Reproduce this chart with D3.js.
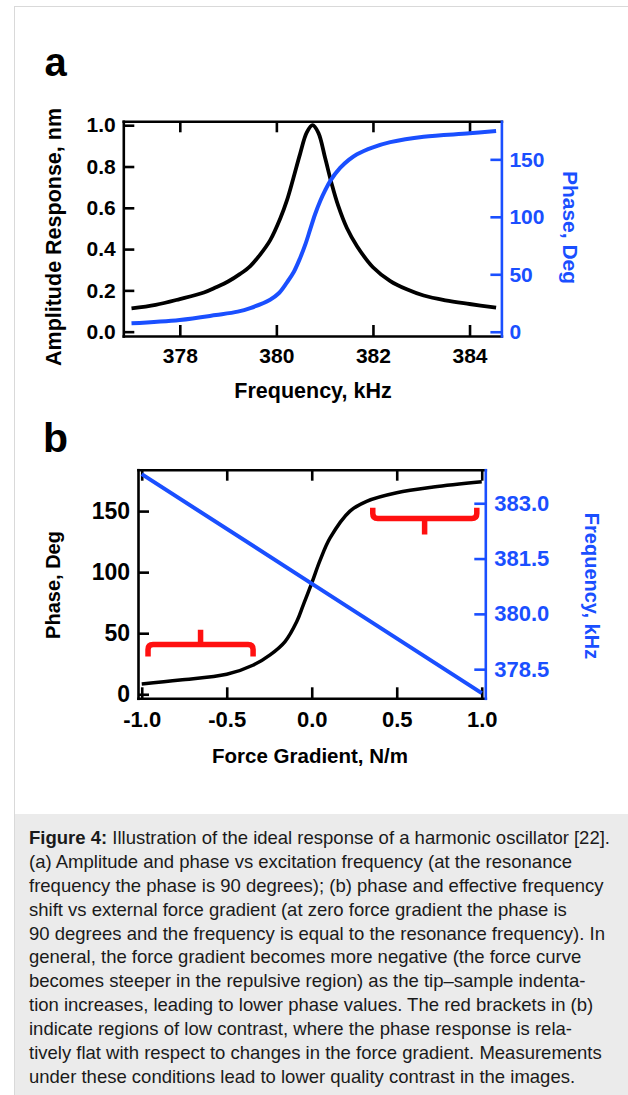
<!DOCTYPE html>
<html>
<head>
<meta charset="utf-8">
<script src="https://cdn.jsdelivr.net/npm/d3@7"></script>
<style>
  html, body { margin: 0; padding: 0; background: #fff; }
  svg { display: block; }
</style>
</head>
<body>
<div id="chart"></div>
<script>
// Panel a: amplitude and phase vs excitation frequency (kHz)
const freqAmp = [377.0, 377.5, 378.0, 378.5, 378.75, 379.0, 379.25, 379.46, 379.66, 379.87, 380.08, 380.22, 380.35, 380.49, 380.63, 380.75, 380.87, 381.01, 381.15, 381.28, 381.46, 381.67, 382.0, 382.36, 382.7, 383.05, 383.5, 384.0, 384.55]
const amplitude = [0.113, 0.13, 0.158, 0.19, 0.215, 0.243, 0.28, 0.318, 0.372, 0.442, 0.548, 0.637, 0.742, 0.86, 0.965, 1.0, 0.963, 0.841, 0.712, 0.61, 0.502, 0.414, 0.312, 0.245, 0.205, 0.175, 0.152, 0.134, 0.116]
const freqPhase = [377.0, 378.0, 378.75, 379.2, 379.46, 379.87, 380.05, 380.22, 380.36, 380.49, 380.6, 380.7, 380.8, 380.91, 381.01, 381.12, 381.32, 381.5, 381.67, 382.0, 382.36, 383.05, 384.0, 384.55]
const phaseA = [7.3, 10.2, 14.5, 17.5, 20.6, 27.9, 33.5, 43.0, 52, 64, 76, 89, 102, 114, 123, 131.5, 142.5, 149.5, 154.5, 160.5, 165, 169.7, 172.6, 174.6]

// Panel b: phase and frequency vs force gradient (N/m)
const gradient = [-1.0, -0.775, -0.5, -0.343, -0.245, -0.157, -0.088, -0.05, 0.0, 0.05, 0.108, 0.225, 0.323, 0.5, 0.715, 1.0]
const phaseB = [8.5, 11.7, 16.4, 24, 32.3, 43.2, 59.6, 73, 91, 110, 128, 150, 158, 165, 169.7, 174]
const gradientEnds = [-1.0, 0.0, 1.0]
const freqShift = [383.79, 380.82, 377.85]

// red brackets (low contrast regions), in data units of panel b
const bracketFrom = [-0.963, 0.359]
const bracketTo = [-0.345, 0.971]
const bracketMid = [-0.654, 0.664]
const bracketLevel = [40.7, 144]
const bracketTip = [30.9, 152.8]
const bracketNub = [52.8, 130.9]

// ticks
const ampTicks = [0, 0.2, 0.4, 0.6, 0.8, 1.0]
const phaseTicksA = [0, 50, 100, 150]
const freqTicksA = [378, 380, 382, 384]
const phaseTicksB = [0, 50, 100, 150]
const gradTicks = [-1.0, -0.5, 0.0, 0.5, 1.0]
const freqTicksB = [378.5, 380.0, 381.5, 383.0]

const captionLines = [
  ['Figure 4:', ' Illustration of the ideal response of a harmonic oscillator [22].'],
  ['', '(a) Amplitude and phase vs excitation frequency (at the resonance'],
  ['', 'frequency the phase is 90 degrees); (b) phase and effective frequency'],
  ['', 'shift vs external force gradient (at zero force gradient the phase is'],
  ['', '90 degrees and the frequency is equal to the resonance frequency). In'],
  ['', 'general, the force gradient becomes more negative (the force curve'],
  ['', 'becomes steeper in the repulsive region) as the tip\u2013sample indenta-'],
  ['', 'tion increases, leading to lower phase values. The red brackets in (b)'],
  ['', 'indicate regions of low contrast, where the phase response is rela-'],
  ['', 'tively flat with respect to changes in the force gradient. Measurements'],
  ['', 'under these conditions lead to lower quality contrast in the images.']
]

const W = 628
const H = 1095
const FONT = '"Liberation Sans", Arial, Helvetica, sans-serif'
const BLUE = '#1a4fff'
const RED = '#ff1010'
const TICK = 11

const svg = d3.select('#chart').append('svg')
  .attr('width', W)
  .attr('height', H)
  .attr('font-family', FONT)

// page frame and caption box
svg.append('rect')
  .attr('x', 14.5).attr('y', 6.5)
  .attr('width', W).attr('height', H)
  .attr('fill', 'none').attr('stroke', '#d9d9d9')
svg.append('rect')
  .attr('x', 15).attr('y', 814)
  .attr('width', W - 15).attr('height', H - 814)
  .attr('fill', '#ebebeb')

function styleAxis(g, color, size) {
  g.attr('font-family', FONT).attr('font-size', size).attr('font-weight', 'bold')
  g.select('.domain').attr('stroke', color).attr('stroke-width', 2.6).attr('stroke-linecap', 'square')
  g.selectAll('.tick line').attr('stroke', color).attr('stroke-width', 2.6)
  g.selectAll('.tick text').attr('fill', color)
}

function title(text, x, y, size, color, angle) {
  svg.append('text')
    .attr('transform', `translate(${x},${y}) rotate(${angle})`)
    .attr('text-anchor', 'middle')
    .attr('font-size', size)
    .attr('font-weight', 'bold')
    .attr('fill', color)
    .text(text)
}

const smooth = d3.curveCatmullRom.alpha(0.5)

/*
 * Panel a
**/
const a = { left: 123.3, right: 501.4, top: 121.3, bottom: 336 }
const xA = d3.scaleLinear().domain([376.83, 384.66]).range([a.left, a.right])
const yA = d3.scaleLinear().domain([-0.021, 1.019]).range([a.bottom, a.top])
const yPA = d3.scaleLinear().domain([-3.7, 183.1]).range([a.bottom, a.top])

svg.append('text').attr('x', 44.5).attr('y', 76)
  .attr('font-size', 40).attr('font-weight', 'bold').text('a')

svg.append('g').attr('transform', `translate(0,${a.top})`)
  .call(d3.axisTop(xA).tickValues(freqTicksA).tickSize(-TICK).tickSizeOuter(0).tickFormat(''))
  .call(styleAxis, '#000', 21)
svg.append('g').attr('transform', `translate(0,${a.bottom})`)
  .call(d3.axisBottom(xA).tickValues(freqTicksA).tickSize(-TICK).tickSizeOuter(0).tickPadding(12.3).tickFormat(d3.format('d')))
  .call(styleAxis, '#000', 21)
svg.append('g').attr('transform', `translate(${a.left},0)`)
  .call(d3.axisLeft(yA).tickValues(ampTicks).tickSize(-TICK).tickSizeOuter(0).tickPadding(7.5).tickFormat(d3.format('.1f')))
  .call(styleAxis, '#000', 21)
svg.append('g').attr('transform', `translate(${a.right},0)`)
  .call(d3.axisRight(yPA).tickValues(phaseTicksA).tickSize(-TICK).tickSizeOuter(0).tickPadding(8).tickFormat(d3.format('d')))
  .call(styleAxis, BLUE, 21)

svg.append('path')
  .datum(d3.zip(freqAmp, amplitude))
  .attr('fill', 'none').attr('stroke', '#000').attr('stroke-width', 3.8)
  .attr('stroke-linejoin', 'round')
  .attr('d', d3.line().x(d => xA(d[0])).y(d => yA(d[1])).curve(smooth))
svg.append('path')
  .datum(d3.zip(freqPhase, phaseA))
  .attr('fill', 'none').attr('stroke', BLUE).attr('stroke-width', 4)
  .attr('d', d3.line().x(d => xA(d[0])).y(d => yPA(d[1])).curve(smooth))

title('Amplitude Response, nm', 61, 237, 21.5, '#000', -90)
title('Phase, Deg', 563, 227.5, 21, BLUE, 90)
title('Frequency, kHz', 313, 398.3, 21.5, '#000', 0)

/*
 * Panel b
**/
const b = { left: 138, right: 485.3, top: 469.7, bottom: 698.3 }
const xB = d3.scaleLinear().domain([-1.022, 1.021]).range([b.left, b.right])
const yB = d3.scaleLinear().domain([-3.3, 183.9]).range([b.bottom, b.top])
const yFB = d3.scaleLinear().domain([377.71, 383.91]).range([b.bottom, b.top])

svg.append('text').attr('x', 43).attr('y', 451.7)
  .attr('font-size', 41).attr('font-weight', 'bold').text('b')

svg.append('g').attr('transform', `translate(0,${b.top})`)
  .call(d3.axisTop(xB).tickValues(gradTicks).tickSize(-TICK).tickSizeOuter(0).tickFormat(''))
  .call(styleAxis, '#000', 22)
svg.append('g').attr('transform', `translate(0,${b.bottom})`)
  .call(d3.axisBottom(xB).tickValues(gradTicks).tickSize(-TICK).tickSizeOuter(0).tickPadding(13.4).tickFormat(d3.format('.1f')))
  .call(styleAxis, '#000', 22)
svg.append('g').attr('transform', `translate(${b.left},0)`)
  .call(d3.axisLeft(yB).tickValues(phaseTicksB).tickSize(-TICK).tickSizeOuter(0).tickPadding(8).tickFormat(d3.format('d')))
  .call(styleAxis, '#000', 23)
svg.append('g').attr('transform', `translate(${b.right},0)`)
  .call(d3.axisRight(yFB).tickValues(freqTicksB).tickSize(-TICK).tickSizeOuter(0).tickPadding(9).tickFormat(d3.format('.1f')))
  .call(styleAxis, BLUE, 22)

// the axis formatter renders a minus sign; the figure uses a plain hyphen
svg.selectAll('.tick text').each(function () {
  const t = d3.select(this)
  t.text(t.text().replace('\u2212', '-'))
})

svg.append('path')
  .datum(d3.zip(gradient, phaseB))
  .attr('fill', 'none').attr('stroke', '#000').attr('stroke-width', 3.5)
  .attr('stroke-linejoin', 'round')
  .attr('d', d3.line().x(d => xB(d[0])).y(d => yB(d[1])).curve(smooth))
svg.append('path')
  .datum(d3.zip(gradientEnds, freqShift))
  .attr('fill', 'none').attr('stroke', BLUE).attr('stroke-width', 4)
  .attr('d', d3.line().x(d => xB(d[0])).y(d => yFB(d[1])))

// brackets
const r = 5
svg.append('g').selectAll('path')
  .data(d3.range(bracketFrom.length))
  .join('path')
  .attr('fill', 'none').attr('stroke', RED).attr('stroke-width', 5.5)
  .attr('d', i => {
    const x0 = xB(bracketFrom[i]), x1 = xB(bracketTo[i]), xm = xB(bracketMid[i])
    const yl = yB(bracketLevel[i]), yt = yB(bracketTip[i]), yn = yB(bracketNub[i])
    const s = Math.sign(yt - yl)
    return `M${x0},${yt} V${yl + s * r} Q${x0},${yl} ${x0 + r},${yl} H${x1 - r} Q${x1},${yl} ${x1},${yl + s * r} V${yt}` +
      ` M${xm},${yl} V${yn}`
  })

title('Phase, Deg', 60.3, 585, 20, '#000', -90)
title('Frequency, kHz', 584.7, 586, 20, BLUE, 90)
title('Force Gradient, N/m', 310, 762.7, 20.5, '#000', 0)

/*
 * Caption
**/
const caption = svg.append('text')
  .attr('font-size', 18.5)
  .attr('fill', '#1a1a1a')
caption.selectAll('tspan.line')
  .data(captionLines)
  .join('tspan')
  .attr('class', 'line')
  .attr('x', 29)
  .attr('y', (d, i) => 844.3 + i * 23.83)
  .each(function (d) {
    const line = d3.select(this)
    if (d[0]) line.append('tspan').attr('font-weight', 'bold').text(d[0])
    line.append('tspan').text(d[1])
  })
</script>
</body>
</html>
